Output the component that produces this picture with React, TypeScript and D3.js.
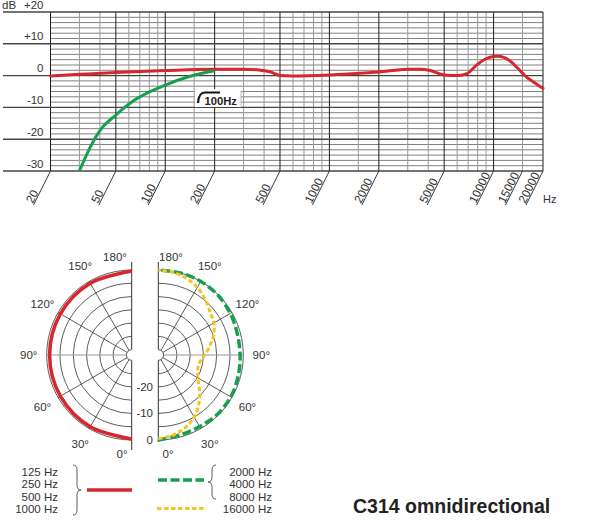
import React from "react";
import * as d3 from "d3";

// ---------- Frequency response data ----------
const FREQ_MAJOR = [20, 50, 100, 200, 500, 1000, 2000, 5000, 10000, 20000];
const FREQ_MINOR = [30, 40, 60, 70, 80, 90, 150, 300, 400, 600, 700, 800, 900, 1500, 3000, 4000, 6000, 7000, 8000, 9000, 15000];
const FREQ_LABELS = ["20", "50", "100", "200", "500", "1000", "2000", "5000", "10000", "15000", "20000"];
const DB_MAJOR = [20, 10, 0, -10, -20, -30];
const DB_LABELS = ["+20", "+10", "0", "-10", "-20", "-30"];

const RED_FREQ = [20, 30, 50, 100, 200, 300, 380, 440, 500, 600, 1000, 2000, 3000, 3600, 4100, 5000, 6000, 6800, 8000, 9000, 10000, 10700, 12300, 14000, 15500, 17500, 20000];
const RED_DB = [-0.1, 0.4, 1.0, 1.6, 2.0, 2.0, 1.7, 1.1, 0.0, -0.1, 0.2, 1.1, 2.0, 2.0, 1.6, 0.2, 0.0, 0.5, 3.6, 5.3, 6.0, 6.1, 5.0, 2.4, 0.0, -2.0, -4.0];

const GREEN_FREQ = [30, 35, 40, 50, 65, 100, 140, 200];
const GREEN_DB = [-30, -22.4, -17.3, -12.4, -7.7, -3.0, -0.3, 1.5];

// ---------- Polar data ----------
const RED_ANG = [0, 30, 60, 90, 120, 150, 180];
const RED_POLAR = [-0.4, -0.8, -1.0, -1.1, -1.0, -0.8, -0.4];

const GREEN_ANG = [0, 15, 30, 45, 60, 75, 90, 105, 120, 135, 150, 165, 180];
const GREEN_POLAR = [0, -0.8, -0.9, -0.5, -0.5, -0.9, -1.2, -1.2, -0.7, -0.2, 0, 0, 0];

const YEL_ANG = [0, 10, 20, 30, 40, 50, 60, 70, 80, 90, 100, 110, 120, 130, 140, 150, 160, 170, 180];
const YEL_POLAR = [-0.5, -1.3, -2.8, -5.0, -8.2, -11.8, -14.8, -16.2, -16.2, -14.5, -12.3, -9.8, -7.9, -6.6, -4.6, -2.6, -1.2, -0.4, 0];

const POLAR_RINGS = [-25, -20, -15, -10, -5, 0];
const POLAR_SPOKES = [30, 60, 90, 120, 150];
const POLAR_DEG_LABELS = [150, 120, 90, 60, 30];
const POLAR_DB_LABELS = ["-20", "-10", "0"];
const POLAR_DB_VALUES = [-20, -10, 0];

const LEG_LEFT = ["125 Hz", "250 Hz", "500 Hz", "1000 Hz"];
const LEG_RIGHT = ["2000 Hz", "4000 Hz", "8000 Hz", "16000 Hz"];

const RED = "#d8262e";
const GREEN = "#17a04b";
const YELLOW = "#f6c51d";
const FONT = "'Liberation Sans', Arial, Helvetica, sans-serif";

export default function App() {
  const x = d3.scaleLog().domain([20, 20000]).range([50.5, 543]);
  const y = d3.scaleLinear().domain([-30, 20]).range([171, 12]);

  const minorDb: number[] = [];
  for (let i = 0; i < 5; i++) {
    for (let k = 1; k < 6; k++) minorDb.push(-30 + i * 10 + (k * 10) / 6);
  }

  const line = d3
    .line<[number, number]>()
    .x((d) => x(d[0]))
    .y((d) => y(d[1]))
    .curve(d3.curveMonotoneX);

  const redPath = line(RED_FREQ.map((f, i) => [f, RED_DB[i]]))!;
  const greenPath = line(GREEN_FREQ.map((f, i) => [f, GREEN_DB[i]]))!;

  // polar
  const cy = 355;
  const cxL = 131.7;
  const cxR = 158.3;
  const r = d3.scaleLinear().domain([-30, 0]).range([5.3, 85]);
  const toRad = (deg: number) => (deg * Math.PI) / 180;

  const radialR = d3
    .lineRadial<[number, number]>()
    .angle((d) => Math.PI - toRad(d[0]))
    .radius((d) => r(d[1]))
    .curve(d3.curveCatmullRom);
  const radialL = d3
    .lineRadial<[number, number]>()
    .angle((d) => Math.PI + toRad(d[0]))
    .radius((d) => r(d[1]))
    .curve(d3.curveCatmullRom);

  const redPolar = radialL(RED_ANG.map((a, i) => [a, RED_POLAR[i]]))!;
  const greenPolar = radialR(GREEN_ANG.map((a, i) => [a, GREEN_POLAR[i]]))!;
  const yelPolar = radialR(YEL_ANG.map((a, i) => [a, YEL_POLAR[i]]))!;

  const semi = (cx: number, rr: number, right: boolean) =>
    `M${cx},${cy - rr} A${rr},${rr} 0 0 ${right ? 1 : 0} ${cx},${cy + rr}`;

  const labelR = 103;

  return (
    <div style={{ position: "fixed", left: 0, top: 0 }}>
      <svg width={596} height={530} style={{ display: "block", background: "#fff" }} fontFamily={FONT}>
        {/* ---------- frequency response grid ---------- */}
        {minorDb.map((d, i) => (
          <line key={"hm" + i} x1={50.5} x2={543} y1={y(d)} y2={y(d)} stroke="#4a4a4a" strokeWidth={0.7} />
        ))}
        {FREQ_MINOR.map((f) => (
          <line key={"vm" + f} x1={x(f)} x2={x(f)} y1={12} y2={171} stroke="#9a9a9a" strokeWidth={1} />
        ))}
        {FREQ_MAJOR.map((f) => (
          <line key={"vM" + f} x1={x(f)} x2={x(f)} y1={12} y2={171} stroke="#1e1e1e" strokeWidth={1} />
        ))}
        {DB_MAJOR.map((d) => (
          <line key={"hM" + d} x1={3} x2={543} y1={y(d)} y2={y(d)} stroke="#444" strokeWidth={1.4} />
        ))}
        {DB_MAJOR.map((d, i) => (
          <text key={"yl" + d} x={43.5} y={y(d) - 3.5} textAnchor="end" fontSize={11.5} fill="#333">
            {DB_LABELS[i]}
          </text>
        ))}
        <text x={2} y={y(20) - 3.5} fontSize={11.5} fill="#333">
          dB
        </text>

        {/* x labels with slanted leaders */}
        {FREQ_LABELS.map((s) => {
          const xx = x(+s);
          return (
            <g key={"xl" + s}>
              <line x1={xx} y1={171} x2={xx - 17} y2={205} stroke="#222" strokeWidth={0.9} />
              <text
                transform={`translate(${xx - 17.8},${204}) rotate(-63.4)`}
                fontSize={11.8}
                fill="#333"
              >
                {s}
              </text>
            </g>
          );
        })}
        <text x={543} y={203} fontSize={11} fill="#333">
          Hz
        </text>

        {/* curves */}
        <path d={redPath} fill="none" stroke={RED} strokeWidth={3} strokeLinecap="round" />
        <path d={greenPath} fill="none" stroke={GREEN} strokeWidth={3} strokeLinecap="butt" />

        {/* 100Hz box */}
        <rect x={195} y={89} width={46} height={18} fill="#fff" />
        <line x1={241} x2={241} y1={91} y2={106} stroke="#aaa" strokeWidth={0.8} />
        <path d="M198,103 C198.5,95.5 200.5,92.5 205,92.5 L220,92.5" fill="none" stroke="#111" strokeWidth={2.2} />
        <text x={204.5} y={104.8} fontSize={11.2} fontWeight="bold" fill="#222">
          100Hz
        </text>

        {/* ---------- polar plots ---------- */}
        {POLAR_RINGS.map((d) => (
          <g key={"ring" + d}>
            <path d={semi(cxL, r(d), false)} fill="none" stroke="#333" strokeWidth={0.8} />
            <path d={semi(cxR, r(d), true)} fill="none" stroke="#333" strokeWidth={0.8} />
          </g>
        ))}
        <path d={semi(cxL, r(-30), false)} fill="none" stroke="#333" strokeWidth={0.8} />
        <path d={semi(cxR, r(-30), true)} fill="none" stroke="#333" strokeWidth={0.8} />
        {POLAR_SPOKES.map((a) => {
          const s = Math.sin(toRad(a));
          const c = Math.cos(toRad(a));
          const r0 = r(-30);
          const r1 = r(0);
          const col = a === 90 ? "#999" : "#333";
          const w = a === 90 ? 1.1 : 0.8;
          return (
            <g key={"sp" + a}>
              <line x1={cxL - r0 * s} y1={cy + r0 * c} x2={cxL - r1 * s} y2={cy + r1 * c} stroke={col} strokeWidth={w} />
              <line x1={cxR + r0 * s} y1={cy + r0 * c} x2={cxR + r1 * s} y2={cy + r1 * c} stroke={col} strokeWidth={w} />
            </g>
          );
        })}
        {/* vertical axes */}
        <line x1={cxL} x2={cxL} y1={262} y2={cy - r(-30)} stroke="#333" strokeWidth={1} />
        <line x1={cxL} x2={cxL} y1={cy + r(-30)} y2={450} stroke="#333" strokeWidth={1} />
        <line x1={cxR} x2={cxR} y1={262} y2={cy - r(-30)} stroke="#333" strokeWidth={1} />
        <line x1={cxR} x2={cxR} y1={cy + r(-30)} y2={442} stroke="#333" strokeWidth={1} />

        {/* degree labels */}
        {POLAR_DEG_LABELS.map((a) => {
          const s = Math.sin(toRad(a));
          const c = Math.cos(toRad(a));
          return (
            <g key={"dl" + a}>
              <text x={cxL - labelR * s} y={cy + labelR * c + 4} textAnchor="middle" fontSize={11.5} fill="#333">
                {a}°
              </text>
              <text x={cxR + labelR * s} y={cy + labelR * c + 4} textAnchor="middle" fontSize={11.5} fill="#333">
                {a}°
              </text>
            </g>
          );
        })}
        <text x={115} y={261} textAnchor="middle" fontSize={11.5} fill="#333">180°</text>
        <text x={171} y={261} textAnchor="middle" fontSize={11.5} fill="#333">180°</text>
        <text x={122} y={458} textAnchor="middle" fontSize={11.5} fill="#333">0°</text>
        <text x={168} y={458} textAnchor="middle" fontSize={11.5} fill="#333">0°</text>
        {POLAR_DB_VALUES.map((d, i) => (
          <text key={"pdb" + d} x={153} y={cy + r(d) + 4} textAnchor="end" fontSize={11.5} fill="#333">
            {POLAR_DB_LABELS[i]}
          </text>
        ))}

        {/* polar curves */}
        <g transform={`translate(${cxL},${cy})`}>
          <path d={redPolar} fill="none" stroke={RED} strokeWidth={3.5} />
        </g>
        <g transform={`translate(${cxR},${cy})`}>
          <path d={greenPolar} fill="none" stroke={GREEN} strokeWidth={3.5} strokeDasharray="9 3.5" />
          <path d={yelPolar} fill="none" stroke={YELLOW} strokeWidth={3} strokeDasharray="4.5 2.5" />
        </g>

        {/* ---------- legend ---------- */}
        {LEG_LEFT.map((s, i) => (
          <text key={"ll" + s} x={58} y={476 + i * 12.4} textAnchor="end" fontSize={11.5} fill="#333">
            {s}
          </text>
        ))}
        <path
          d="M73,465 Q77,465 77,470 L77,485 Q77,490 81,490 Q77,490 77,495 L77,510 Q77,515 73,515"
          fill="none"
          stroke="#333"
          strokeWidth={0.8}
        />
        <line x1={87} x2={132} y1={490} y2={490} stroke={RED} strokeWidth={3.5} />

        <line x1={158} x2={204} y1={480} y2={480} stroke={GREEN} strokeWidth={3.5} strokeDasharray="9 3.5" />
        <path
          d="M216,465 Q212,465 212,470 L212,477 Q212,482 208,482 Q212,482 212,487 L212,494 Q212,499 216,499"
          fill="none"
          stroke="#333"
          strokeWidth={0.8}
        />
        <line x1={157} x2={204} y1={508.5} y2={508.5} stroke={YELLOW} strokeWidth={3} strokeDasharray="4.5 2.5" />
        {LEG_RIGHT.map((s, i) => (
          <text key={"lr" + s} x={272} y={476 + i * 12.4} textAnchor="end" fontSize={11.5} fill="#333">
            {s}
          </text>
        ))}

        <text x={353} y={513} fontSize={19.5} fontWeight="bold" fill="#222">
          C314 omnidirectional
        </text>
      </svg>
    </div>
  );
}
